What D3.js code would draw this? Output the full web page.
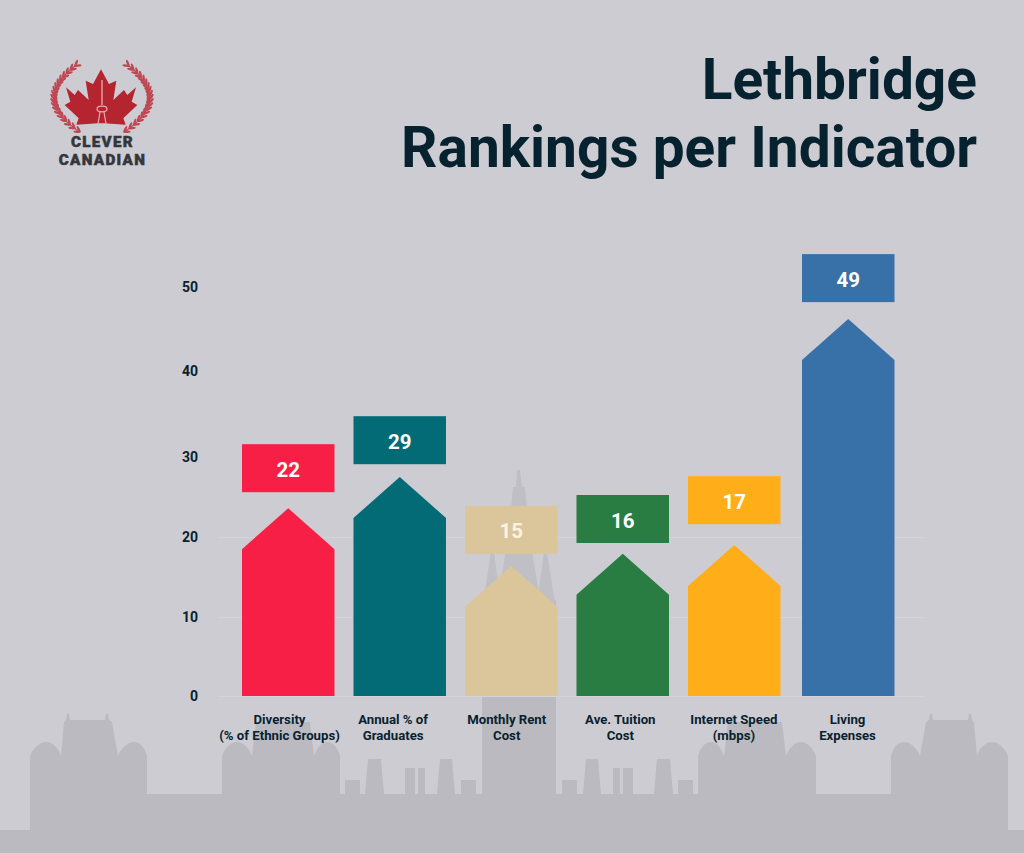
<!DOCTYPE html>
<html>
<head>
<meta charset="utf-8">
<script src="https://cdn.jsdelivr.net/npm/d3@7"></script>
<style>
  html, body { margin: 0; padding: 0; background: #cdccd3; }
  svg { display: block; font-family: Roboto, sans-serif; }
</style>
</head>
<body>
<svg id="chart" width="1024" height="853"></svg>
<script>
const categories = ['Diversity\n(% of Ethnic Groups)', 'Annual % of\nGraduates', 'Monthly Rent\nCost', 'Ave. Tuition\nCost', 'Internet Speed\n(mbps)', 'Living\nExpenses'];
const rankValues = [22, 29, 15, 16, 17, 49];
// where the arrow tips and the number tags sit against the axis in the picture
const markerTops = [23.6, 27.5, 16.4, 17.9, 19, 46.2];
const tagBases = [25.6, 29.1, 17.9, 19.25, 21.6, 48.2];
const tickValues = [0, 10, 20, 30, 40, 50];
const titleLines = ['Lethbridge', 'Rankings per Indicator'];
const brandLines = ['CLEVER', 'CANADIAN'];

const ink = '#07222f';
const skylineColor = '#bbbac0';
const svg = d3.select('#chart');

svg.append('rect').attr('width', 1024).attr('height', 853).attr('fill', '#cdccd3');

// skyline behind the chart, left half drawn then mirrored around the centre tower
const skyline = svg.append('g').attr('fill', skylineColor);
const half = 'M0,853V830H30V756C33,748 40,742 46,742C52,742 59,748 61,756L64,722L66,720L67,714H69L70,720H105L106,714H108L109,720L112,722L118,756'
  + 'C121,748 128,742 134,742C140,742 145,748 147,756V794H222V756C225,748 231,742 237,742C243,742 249,748 252,756L256,722H310L314,756'
  + 'C317,748 321,742 327,742C333,742 338,748 340,756V794'
  + 'H345V780H360V794H365L368,759H381L384,794H405V768H415V794H418V768H425V794H437L440,759H452L455,794H461V780H476V794H482V697H519V853Z';
skyline.append('path').attr('d', half);
skyline.append('path').attr('d', half).attr('transform', 'translate(1038,0) scale(-1,1)');
skyline.append('rect').attr('x', 482).attr('y', 600).attr('width', 74).attr('height', 253);
const spires = skyline.append('g').attr('fill', '#c0bfc5');
spires.append('path').attr('d', 'M517,470H520L522,487H525L527,510L532,550L540,600H498L506,550L511,510L513,487H516Z');
spires.append('path').attr('d', 'M491,552H494L502,610H482Z');
spires.append('path').attr('d', 'M544,552H547L556,610H536Z');

// logo
const logo = svg.append('g');
const wreathColor = '#bd4752';
[1, -1].forEach(side => {
  const wing = logo.append('g')
    .attr('transform', side === 1 ? null : 'translate(204,0) scale(-1,1)');
  const curve = t => ({
    x: (1 - t) * (1 - t) * 80 + 2 * t * (1 - t) * 31 + t * t * 75,
    y: (1 - t) * (1 - t) * 132 + 2 * t * (1 - t) * 100 + t * t * 66
  });
  wing.append('path')
    .attr('d', 'M80,132Q31,100 75,66')
    .attr('fill', 'none').attr('stroke', wreathColor).attr('stroke-width', 1.2);
  d3.range(0, 1.001, 1 / 18).forEach(t => {
    const p = curve(t);
    const q = curve(t + 0.02);
    const angle = Math.atan2(q.y - p.y, q.x - p.x) * 180 / Math.PI;
    [-30, 30].forEach(spread => {
      wing.append('ellipse')
        .attr('rx', 3.6).attr('ry', 1.2)
        .attr('fill', wreathColor)
        .attr('transform', `translate(${p.x},${p.y}) rotate(${angle + spread}) translate(3,0)`);
    });
  });
});
const leafRight = [[213, 88], [237, 132], [259, 122], [250, 180], [282, 150], [292, 165], [318, 142], [305, 185], [322, 195], [280, 235], [287, 254], [222, 250]];
const leafPoints = leafRight.concat(leafRight.slice().reverse().map(p => [426 - p[0], p[1]]))
  .map(p => [30 + p[0] / 3, 40 + p[1] / 3]);
logo.append('path')
  .attr('d', d3.line()(leafPoints) + 'Z')
  .attr('fill', '#b5252f');
const tower = logo.append('g').attr('stroke', '#e3aeb0').attr('fill', 'none');
tower.append('line').attr('x1', 102).attr('x2', 102).attr('y1', 80).attr('y2', 105).attr('stroke-width', 1.3);
tower.append('ellipse').attr('cx', 102).attr('cy', 109).attr('rx', 5).attr('ry', 2.8).attr('stroke-width', 1.2);
tower.append('path').attr('d', 'M100,112L98,124M104,112L106,124').attr('stroke-width', 1.2);
logo.selectAll('text.brand')
  .data(brandLines)
  .enter().append('text')
  .attr('class', 'brand')
  .attr('x', 102.5)
  .attr('y', (d, i) => 147 + i * 18)
  .attr('text-anchor', 'middle')
  .attr('font-size', 15.2)
  .attr('font-weight', 900)
  .attr('letter-spacing', 1.3)
  .attr('fill', '#34363b')
  .attr('stroke', '#34363b')
  .attr('stroke-width', 0.5)
  .text(d => d);

// title
svg.selectAll('text.title')
  .data(titleLines)
  .enter().append('text')
  .attr('class', 'title')
  .attr('x', 977)
  .attr('y', (d, i) => 99 + i * 68)
  .attr('text-anchor', 'end')
  .attr('font-size', 56.8)
  .attr('font-weight', 700)
  .attr('fill', ink)
  .text(d => d);

// scales, the picture's ticks and columns are not evenly spaced so both are piecewise
const y = d3.scaleLinear()
  .domain(tickValues)
  .range([696, 617, 537, 457, 371, 287]);
const barLeft = d3.scaleLinear()
  .domain([0, 4, 5])
  .range([242, 688, 802]);
const barWidth = 92.5;
const labelX = d3.scalePoint()
  .domain(categories)
  .range([279, 847]);
const barColor = d3.scaleOrdinal()
  .domain(categories)
  .range(['#f81f47', '#036b75', '#dbc59a', '#2a7d42', '#ffae1a', '#3871a8']);

// y axis, only the lower three gridlines show in the picture
const yAxis = svg.append('g')
  .attr('transform', 'translate(218,0)')
  .call(d3.axisLeft(y).tickValues(tickValues).tickSizeInner(-707).tickSizeOuter(0).tickPadding(20));
yAxis.select('.domain').remove();
yAxis.selectAll('.tick line')
  .attr('stroke', '#d3d3d8')
  .attr('stroke-width', 1)
  .attr('display', d => d > 20 ? 'none' : null);
yAxis.selectAll('.tick text')
  .attr('font-family', 'Roboto, sans-serif')
  .attr('font-size', 14)
  .attr('font-weight', 700)
  .attr('fill', ink);

// bars with arrow tops
const shoulder = 41;
const tagHeight = 48;
const bars = svg.append('g').selectAll('g')
  .data(categories)
  .enter().append('g');
bars.append('path')
  .attr('fill', d => barColor(d))
  .attr('d', (d, i) => {
    const left = barLeft(i);
    const right = left + barWidth;
    const tip = y(markerTops[i]);
    return d3.line()([[left, y(0)], [left, tip + shoulder], [(left + right) / 2, tip], [right, tip + shoulder], [right, y(0)]]) + 'Z';
  });
bars.append('rect')
  .attr('x', (d, i) => barLeft(i))
  .attr('y', (d, i) => y(tagBases[i]) - tagHeight)
  .attr('width', barWidth)
  .attr('height', tagHeight)
  .attr('fill', d => barColor(d));
bars.append('text')
  .attr('x', (d, i) => barLeft(i) + barWidth / 2)
  .attr('y', (d, i) => y(tagBases[i]) - tagHeight / 2)
  .attr('dy', '0.42em')
  .attr('text-anchor', 'middle')
  .attr('font-size', 20.5)
  .attr('font-weight', 700)
  .attr('fill', (d, i) => rankValues[i] === 15 ? '#fbf4e2' : '#ffffff')
  .text((d, i) => rankValues[i]);

// category labels
const xAxis = svg.append('g')
  .attr('transform', `translate(0,${y(0)})`)
  .call(d3.axisBottom(labelX).tickSize(0).tickFormat(''));
xAxis.select('.domain').remove();
xAxis.selectAll('.tick text').each(function (d) {
  const label = d3.select(this)
    .attr('y', 28)
    .attr('dy', null)
    .attr('font-family', 'Roboto, sans-serif')
    .attr('font-size', 13.2)
    .attr('font-weight', 700)
    .attr('fill', ink);
  d.split('\n').forEach((line, i) => {
    label.append('tspan').attr('x', 0).attr('y', 28 + i * 16).text(line);
  });
});
</script>
</body>
</html>
